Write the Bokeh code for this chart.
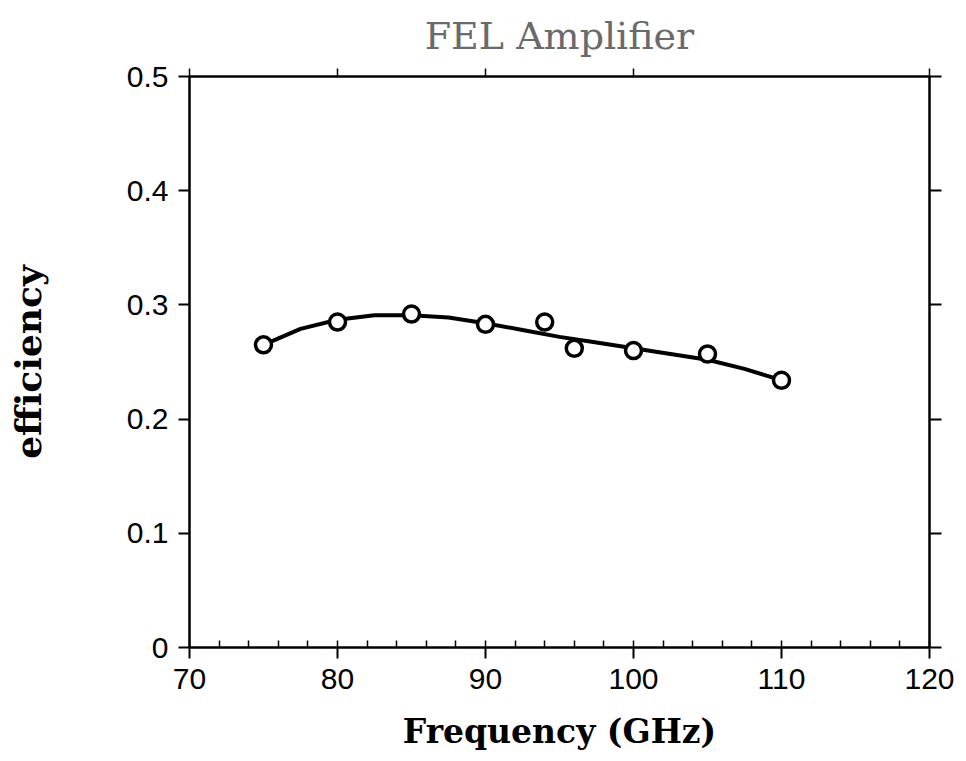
from bokeh.plotting import figure
from bokeh.models import LinearAxis, Range1d, FixedTicker
from bokeh.embed import file_html
from bokeh.resources import INLINE

# measured points
freq = [75, 80, 85, 90, 94, 96, 100, 105, 110]
eff = [0.265, 0.285, 0.292, 0.283, 0.285, 0.262, 0.260, 0.257, 0.234]

# hand-drawn fitted curve
curve_freq = [75, 77.5, 80, 82.5, 85, 87.5, 90, 92.5, 95, 97.5, 100, 102.5, 105, 107.5, 110]
curve_eff = [0.265, 0.279, 0.287, 0.291, 0.291, 0.289, 0.284, 0.278, 0.272, 0.267, 0.262, 0.257, 0.252, 0.244, 0.234]

x_ticks = [70, 80, 90, 100, 110, 120]
y_ticks = [0, 0.1, 0.2, 0.3, 0.4, 0.5]
x_minor = [70 + 2 * i for i in range(26)]

p = figure(width=966, height=761, output_backend="svg", toolbar_location=None,
           x_range=Range1d(70, 120), y_range=Range1d(0, 0.5),
           min_border_left=189, min_border_right=37, min_border_top=76, min_border_bottom=114,
           title="FEL Amplifier")
p.background_fill_color = "white"
p.border_fill_color = "white"
p.outline_line_color = "black"
p.outline_line_width = 2
p.xgrid.visible = False
p.ygrid.visible = False

p.title.align = "center"
p.title.text_font = "DejaVu Serif"
p.title.text_font_style = "normal"
p.title.text_font_size = "38px"
p.title.text_color = "#6a6a6a"
p.title.standoff = 22

TICK_FONT = "Liberation Sans"
LABEL_FONT = "DejaVu Serif"

xa = p.xaxis[0]
xa.ticker = FixedTicker(ticks=x_ticks, minor_ticks=x_minor)
xa.axis_label = "Frequency (GHz)"
xa.axis_label_text_font = LABEL_FONT
xa.axis_label_text_font_style = "bold"
xa.axis_label_text_font_size = "33px"
xa.axis_label_text_color = "black"
xa.axis_label_standoff = 20
xa.major_label_text_font = TICK_FONT
xa.major_label_text_font_size = "30px"
xa.major_label_text_color = "black"
xa.major_label_standoff = 10
xa.major_tick_out = 11
xa.major_tick_in = 0
xa.minor_tick_out = 0
xa.minor_tick_in = 7
xa.axis_line_width = 2
xa.major_tick_line_width = 2
xa.minor_tick_line_width = 1.5

ya = p.yaxis[0]
ya.ticker = FixedTicker(ticks=y_ticks, minor_ticks=[])
ya.major_label_overrides = {0: "0"}
ya.axis_label = "efficiency"
ya.axis_label_text_font = LABEL_FONT
ya.axis_label_text_font_style = "bold"
ya.axis_label_text_font_size = "36px"
ya.axis_label_text_color = "black"
ya.axis_label_standoff = 75
ya.major_label_text_font = TICK_FONT
ya.major_label_text_font_size = "30px"
ya.major_label_text_color = "black"
ya.major_label_standoff = 10
ya.major_tick_out = 11
ya.major_tick_in = 0
ya.minor_tick_line_color = None
ya.axis_line_width = 2
ya.major_tick_line_width = 2

top = LinearAxis(ticker=FixedTicker(ticks=[70, 80, 90, 100, 120], minor_ticks=[]),
                 major_label_text_color=None, major_tick_out=8, major_tick_in=0,
                 axis_line_width=2, major_tick_line_width=1.5, minor_tick_line_color=None)
p.add_layout(top, "above")
right = LinearAxis(ticker=FixedTicker(ticks=y_ticks, minor_ticks=[]),
                   major_label_text_color=None, major_tick_out=12, major_tick_in=0,
                   axis_line_width=2, major_tick_line_width=2, minor_tick_line_color=None)
p.add_layout(right, "right")

p.line(curve_freq, curve_eff, line_color="black", line_width=4)
p.scatter(freq, eff, marker="circle", size=16, fill_color="white",
          line_color="black", line_width=3.5)

open("out.html", "w").write(file_html(p, INLINE))
